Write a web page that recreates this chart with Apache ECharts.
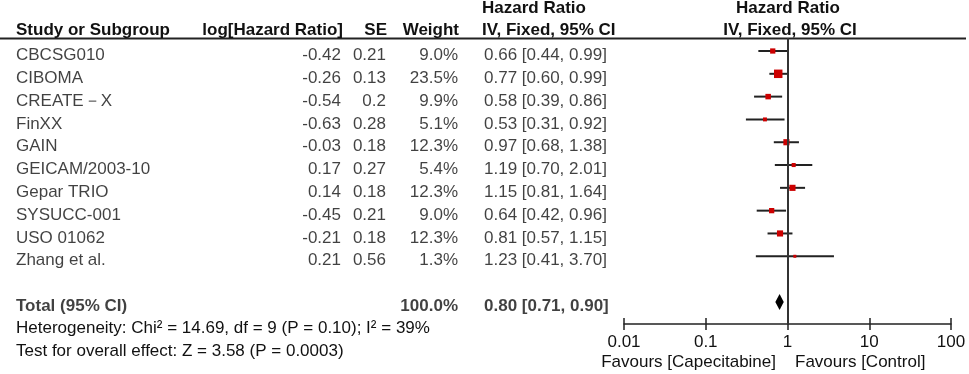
<!DOCTYPE html>
<html>
<head>
<meta charset="utf-8">
<script src="https://cdn.jsdelivr.net/npm/echarts@6/dist/echarts.min.js"></script>
<style>
  html, body { margin: 0; padding: 0; background: #fff; }
  #chart { width: 969px; height: 374px; }
</style>
</head>
<body>
<div id="chart"></div>
<script>
// study rows
const studies = ['CBCSG010', 'CIBOMA', 'CREATE－X', 'FinXX', 'GAIN', 'GEICAM/2003-10', 'Gepar TRIO', 'SYSUCC-001', 'USO 01062', 'Zhang et al.'];
const logHR = [-0.42, -0.26, -0.54, -0.63, -0.03, 0.17, 0.14, -0.45, -0.21, 0.21];
const se = [0.21, 0.13, 0.2, 0.28, 0.18, 0.27, 0.18, 0.21, 0.18, 0.56];
const weight = [9.0, 23.5, 9.9, 5.1, 12.3, 5.4, 12.3, 9.0, 12.3, 1.3];
const hr = [0.66, 0.77, 0.58, 0.53, 0.97, 1.19, 1.15, 0.64, 0.81, 1.23];
const ciLow = [0.44, 0.60, 0.39, 0.31, 0.68, 0.70, 0.81, 0.42, 0.57, 0.41];
const ciHigh = [0.99, 0.99, 0.86, 0.92, 1.38, 2.01, 1.64, 0.96, 1.15, 3.70];

// pooled estimate
const totalWeight = 100.0;
const totalHR = 0.80;
const totalLow = 0.71;
const totalHigh = 0.90;
const totalRow = 11;

const xTicks = [0.01, 0.1, 1, 10, 100];

const FONT = 'Liberation Sans, Arial, sans-serif';
const FS = 17;
const RED = '#cc0000';
const INK = '#111';

const chart = echarts.init(document.getElementById('chart'));

const gridTop = 38, gridBottom = 50;
const yMin = -0.57, yMax = 11.97;

const fmtCI = (h, l, u) => `${h.toFixed(2)} [${l.toFixed(2)}, ${u.toFixed(2)}]`;

// table column as a text-only scatter
function textCol(x, rows, texts, align, bold) {
  return {
    type: 'scatter',
    xAxisIndex: 2,
    yAxisIndex: 1,
    symbolSize: 0,
    silent: true,
    clip: false,
    data: rows.map((r, i) => [x, r, texts[i]]),
    label: {
      show: true,
      position: align === 'left' ? 'right' : 'left',
      distance: 0,
      offset: [0, 4.5],
      formatter: p => p.data[2],
      color: INK,
      fontFamily: FONT,
      fontSize: FS,
      fontWeight: bold ? 'bold' : 'normal'
    }
  };
}

const rows = studies.map((_, i) => i);
const bold = `bold ${FS}px ${FONT}`;
const normal = `${FS}px ${FONT}`;

const option = {
  animation: false,
  textStyle: { fontFamily: FONT },
  grid: [
    { left: 624, right: 18, top: gridTop, bottom: gridBottom },
    { left: 0, right: 0, top: gridTop, bottom: gridBottom }
  ],
  xAxis: [
    {
      type: 'log', logBase: 10, min: 0.01, max: 100, gridIndex: 0,
      position: 'bottom',
      axisLine: { show: true, onZero: false, lineStyle: { color: '#222', width: 1.5 } },
      axisTick: { show: true, length: 6, lineStyle: { color: '#222', width: 1.5 } },
      axisLabel: {
        show: true, margin: 10, color: INK, fontSize: FS, fontFamily: FONT,
        formatter: v => xTicks.find(t => Math.abs(t - v) < t * 1e-6) !== undefined ? String(v) : ''
      },
      splitLine: { show: false }
    },
    {
      type: 'log', logBase: 10, min: 0.01, max: 100, gridIndex: 0,
      position: 'bottom',
      axisLine: { show: false, onZero: false },
      axisTick: { show: true, inside: true, length: 6, lineStyle: { color: '#222', width: 1.5 } },
      axisLabel: { show: false },
      splitLine: { show: false }
    },
    { type: 'value', min: 0, max: 969, gridIndex: 1, show: false }
  ],
  yAxis: [
    { type: 'value', min: yMin, max: yMax, inverse: true, gridIndex: 0, show: false },
    { type: 'value', min: yMin, max: yMax, inverse: true, gridIndex: 1, show: false }
  ],
  series: [
    // study CIs and weight squares
    {
      type: 'custom',
      xAxisIndex: 0, yAxisIndex: 0,
      silent: true,
      data: rows.map(i => [ciLow[i], ciHigh[i], hr[i], i, weight[i]]),
      renderItem: (params, api) => {
        const a = api.coord([api.value(0), api.value(3)]);
        const b = api.coord([api.value(1), api.value(3)]);
        const c = api.coord([api.value(2), api.value(3)]);
        const s = Math.max(3, 1.75 * Math.sqrt(api.value(4)));
        return {
          type: 'group',
          children: [
            { type: 'line', shape: { x1: a[0], y1: a[1], x2: b[0], y2: b[1] },
              style: { stroke: '#222', lineWidth: 2 } },
            { type: 'rect', shape: { x: c[0] - s / 2, y: c[1] - s / 2, width: s, height: s },
              style: { fill: RED } }
          ]
        };
      },
      markLine: {
        silent: true,
        symbol: 'none',
        label: { show: false },
        lineStyle: { color: '#333', width: 2, type: 'solid' },
        data: [{ xAxis: 1 }]
      }
    },
    // pooled diamond
    {
      type: 'custom',
      xAxisIndex: 0, yAxisIndex: 0,
      silent: true,
      data: [[totalLow, totalHigh, totalHR, totalRow]],
      renderItem: (params, api) => {
        const l = api.coord([api.value(0), api.value(3)]);
        const u = api.coord([api.value(1), api.value(3)]);
        const m = api.coord([api.value(2), api.value(3)]);
        const h = 8;
        return {
          type: 'polygon',
          shape: { points: [[l[0], l[1]], [m[0], m[1] - h], [u[0], u[1]], [m[0], m[1] + h]] },
          style: { fill: '#000' }
        };
      }
    },
    textCol(16, rows, studies, 'left', false),
    textCol(341, rows, logHR.map(String), 'right', false),
    textCol(386, rows, se.map(String), 'right', false),
    textCol(458, rows, weight.map(w => w.toFixed(1) + '%'), 'right', false),
    textCol(484, rows, rows.map(i => fmtCI(hr[i], ciLow[i], ciHigh[i])), 'left', false),
    textCol(16, [totalRow], ['Total (95% CI)'], 'left', true),
    textCol(458, [totalRow], [totalWeight.toFixed(1) + '%'], 'right', true),
    textCol(484, [totalRow], [fmtCI(totalHR, totalLow, totalHigh)], 'left', true)
  ],
  graphic: [
    { type: 'line', shape: { x1: 0, y1: 38.5, x2: 966, y2: 38.5 }, style: { stroke: '#222', lineWidth: 2 } },
    { type: 'text', x: 16, y: 30, style: { text: 'Study or Subgroup', font: bold, fill: INK, textVerticalAlign: 'middle' } },
    { type: 'text', x: 343, y: 30, style: { text: 'log[Hazard Ratio]', font: bold, fill: INK, textAlign: 'right', textVerticalAlign: 'middle' } },
    { type: 'text', x: 387, y: 30, style: { text: 'SE', font: bold, fill: INK, textAlign: 'right', textVerticalAlign: 'middle' } },
    { type: 'text', x: 459, y: 30, style: { text: 'Weight', font: bold, fill: INK, textAlign: 'right', textVerticalAlign: 'middle' } },
    { type: 'text', x: 482, y: 8, style: { text: 'Hazard Ratio', font: bold, fill: INK, textVerticalAlign: 'middle' } },
    { type: 'text', x: 482, y: 30, style: { text: 'IV, Fixed, 95% CI', font: bold, fill: INK, textVerticalAlign: 'middle' } },
    { type: 'text', x: 788, y: 8, style: { text: 'Hazard Ratio', font: bold, fill: INK, textAlign: 'center', textVerticalAlign: 'middle' } },
    { type: 'text', x: 790, y: 30, style: { text: 'IV, Fixed, 95% CI', font: bold, fill: INK, textAlign: 'center', textVerticalAlign: 'middle' } },
    { type: 'text', x: 16, y: 328, style: { text: 'Heterogeneity: Chi² = 14.69, df = 9 (P = 0.10); I² = 39%', font: normal, fill: INK, textVerticalAlign: 'middle' } },
    { type: 'text', x: 16, y: 351, style: { text: 'Test for overall effect: Z = 3.58 (P = 0.0003)', font: normal, fill: INK, textVerticalAlign: 'middle' } },
    { type: 'text', x: 776, y: 362, style: { text: 'Favours [Capecitabine]', font: normal, fill: INK, textAlign: 'right', textVerticalAlign: 'middle' } },
    { type: 'text', x: 795, y: 362, style: { text: 'Favours [Control]', font: normal, fill: INK, textVerticalAlign: 'middle' } }
  ]
};

chart.setOption(option);
</script>
</body>
</html>
